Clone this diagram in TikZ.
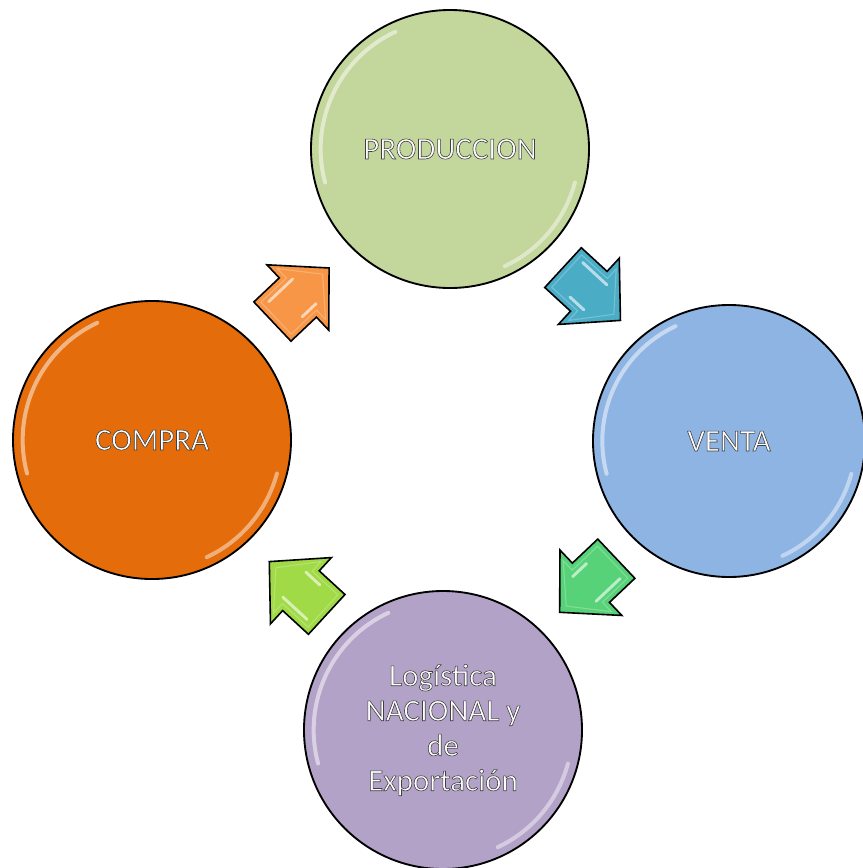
\documentclass[tikz,border=0pt]{standalone}
\usepackage{fontspec}
\setmainfont{Carlito}
\definecolor{cprod}{RGB}{195,214,155}
\definecolor{cventa}{RGB}{142,180,227}
\definecolor{ccompra}{RGB}{228,108,10}
\definecolor{clogi}{RGB}{179,162,199}
\definecolor{aorange}{RGB}{247,150,70}
\definecolor{ablue}{RGB}{75,172,198}
\definecolor{agreen}{RGB}{88,210,120}
\definecolor{alime}{RGB}{160,218,70}
\newcommand{\outlined}[1]{\special{pdf:code 2 Tr 0.45 w 0.25 0.25 0.25 RG}#1\special{pdf:code 0 Tr}}
\newcommand{\blockarr}[3]{%
\begin{scope}[shift={#1}, rotate=#2]
\filldraw[fill=#3, draw=black, line width=1.2pt, line join=miter]
  (-39,-27) -- (-4,-27) -- (-4,-45) -- (39,0) -- (-4,45) -- (-4,27) -- (-39,27) -- cycle;
\draw[white, opacity=0.25, line width=0.8pt, line join=miter]
  (-34,-22) -- (1,-22) -- (1,-35) -- (30,0) -- (1,35) -- (1,22) -- (-34,22) -- cycle;
\draw[white, opacity=0.6, line width=2.2pt, line cap=round] (-14,17) -- (5,17);
\draw[white, opacity=0.6, line width=2.2pt, line cap=round] (-28,-17) -- (5,-17);
\end{scope}}
\newcommand{\glossy}[2]{%
\begin{scope}[shift={(#1.center)}]
\draw[white, opacity=0.5, line width=3pt, line cap=round]
  (115:#2) arc[start angle=115, end angle=195, radius=#2];
\draw[white, opacity=0.45, line width=3pt, line cap=round]
  (-15:#2) arc[start angle=-15, end angle=-65, radius=#2];
\end{scope}}
\tikzset{
  bub/.style={circle, draw=black, line width=1.4pt, inner sep=0pt,
    text=white, font=\fontsize{23.25}{26.25}\selectfont, align=center},
}
\begin{document}
\begin{tikzpicture}[x=0.75pt, y=-0.75pt]
\useasboundingbox (0,0) rectangle (863,868);
\fill[white] (0,0) rectangle (863,868);

\node[bub, fill=cprod, minimum size=208.5pt] (prod) at (450,149) {\outlined{PRODUCCION}};
\node[bub, fill=cventa, minimum size=204pt] (venta) at (729,441) {\outlined{VENTA}};
\node[bub, fill=ccompra, minimum size=208.5pt] (compra) at (152,440) {\outlined{COMPRA}};
\node[bub, fill=clogi, minimum size=208.5pt] (logi) at (443,730)
  {\outlined{Logística}\\\outlined{NACIONAL y}\\\outlined{de}\\\outlined{Exportación}};

\glossy{prod}{97pt}
\glossy{venta}{95pt}
\glossy{compra}{97pt}
\glossy{logi}{97pt}

\blockarr{(300.75,294.75)}{43.4}{aorange}
\blockarr{(591.75,294)}{-42.6}{ablue}
\blockarr{(588,585.5)}{-136.6}{agreen}
\blockarr{(298,588)}{137.4}{alime}
\end{tikzpicture}
\end{document}
